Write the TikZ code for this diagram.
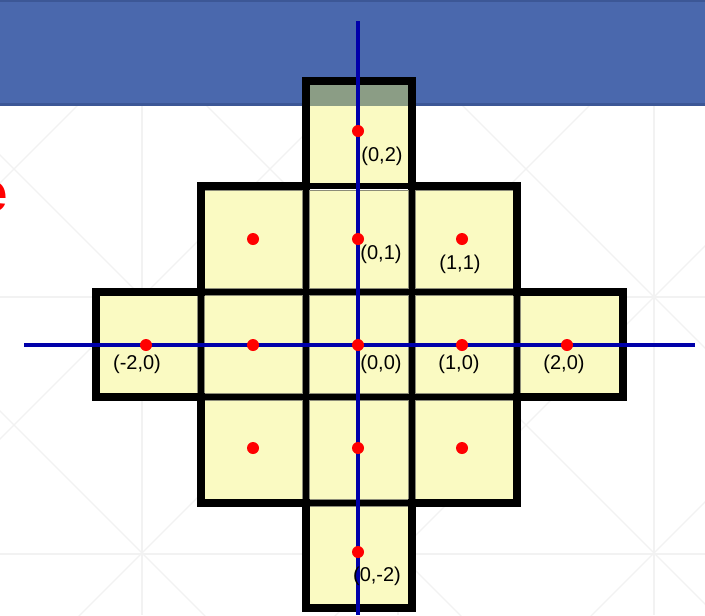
\documentclass[tikz,border=0pt]{standalone}
\usepackage{fontspec}
\setmainfont{Liberation Sans}
\definecolor{banner}{HTML}{4A68AD}
\definecolor{bannerdark}{HTML}{3C5796}
\definecolor{cellyellow}{HTML}{FAFAC2}
\definecolor{overlap}{HTML}{8B9D85}
\definecolor{axisblue}{HTML}{0000AA}
\definecolor{faint}{HTML}{F2F2F2}
\definecolor{celledge}{HTML}{8C8C78}
\tikzset{
  bgline/.style={draw=faint, line width=0.9pt},
  cellbox/.style={fill=cellyellow, draw=celledge, line width=0.6pt},
  innerline/.style={draw=black, line width=4.5pt},
  outerline/.style={draw=black, line width=6pt, line join=miter},
  axisline/.style={draw=axisblue, line width=2.6pt},
  dot/.style={circle, fill=red, inner sep=0pt, minimum size=9pt},
  lbl/.style={inner sep=0pt, font=\fontsize{15pt}{17pt}\selectfont, text=black}
}
\begin{document}
\begin{tikzpicture}[x=0.75pt, y=-0.75pt]
\useasboundingbox (0,0) rectangle (705,615);
\fill[white] (0,0) rectangle (705,615);
% faint background pattern
\begin{scope}
\clip (0,0) rectangle (705,615);
\foreach \gx in {142,398,654} \draw[bgline] (\gx,0) -- (\gx,615);
\foreach \gy in {41,297,554} \draw[bgline] (0,\gy) -- (705,\gy);
\foreach \c in {-613,-357,-101,155,411} \draw[bgline] (-20,\c-20) -- (740,\c+740);
\foreach \c in {183,439,695,951,1207} \draw[bgline] (-20,\c+20) -- (\c+20,-20);
\end{scope}
% red title fragment (cut off at the left edge, as in the reference)
\node[anchor=base east, inner sep=0pt, text=red, font=\bfseries\fontsize{41pt}{48pt}\selectfont] (title) at (8,211) {e};
% banner
\fill[banner] (0,0) rectangle (705,106);
\fill[bannerdark] (0,102.5) rectangle (705,106);
\fill[bannerdark] (0,0) rectangle (705,1.5);
% cells
\def\U{105.4}
\foreach \i/\j in {0/2, -1/1,0/1,1/1, -2/0,-1/0,0/0,1/0,2/0, -1/-1,0/-1,1/-1, 0/-2}{
  \path[cellbox] (306.3+\U*\i+3.5, 291.8-\U*\j+3.5) rectangle (306.3+\U*\i+\U-3.5, 291.8-\U*\j+\U-3.5);
}
\fill[overlap] (306.3,81) rectangle (411.7,106);
% inner lines
\draw[innerline] (200.9,291.8) -- (200.9,397.2);
\draw[innerline] (306.3,186.4) -- (306.3,502.6);
\draw[innerline] (411.7,186.4) -- (411.7,502.6);
\draw[innerline] (517.1,291.8) -- (517.1,397.2);
\draw[innerline] (306.3,186.4) -- (411.7,186.4);
\draw[innerline] (200.9,291.8) -- (517.1,291.8);
\draw[innerline] (200.9,397.2) -- (517.1,397.2);
\draw[innerline] (306.3,502.6) -- (411.7,502.6);
% outer outline
\draw[outerline] (306.3,81) -- (411.7,81) -- (411.7,186.4) -- (517.1,186.4) -- (517.1,291.8) -- (622.5,291.8) -- (622.5,397.2) -- (517.1,397.2) -- (517.1,502.6) -- (411.7,502.6) -- (411.7,608) -- (306.3,608) -- (306.3,502.6) -- (200.9,502.6) -- (200.9,397.2) -- (95.5,397.2) -- (95.5,291.8) -- (200.9,291.8) -- (200.9,186.4) -- (306.3,186.4) -- cycle;
% axes
\coordinate (ytop) at (358,21);
\coordinate (ybot) at (358,615);
\coordinate (xl) at (24,345);
\coordinate (xr) at (695,345);
\draw[axisline] (ytop) -- (ybot);
\draw[axisline] (xl) -- (xr);
% dots
\node[dot] (p02) at (358,131) {};
\node[dot] (pm11) at (253,239) {};
\node[dot] (p01) at (358,239) {};
\node[dot] (p11) at (462,239) {};
\node[dot] (pm20) at (146,345) {};
\node[dot] (pm10) at (253,345) {};
\node[dot] (p00) at (358,345) {};
\node[dot] (p10) at (462,345) {};
\node[dot] (p20) at (567,345) {};
\node[dot] (pm1m1) at (253,448) {};
\node[dot] (p0m1) at (358,448) {};
\node[dot] (p1m1) at (462,448) {};
\node[dot] (p0m2) at (358,552) {};
% labels
\node[lbl] (l02) at (382,156) {(0,2)};
\node[lbl] (l01) at (381,254) {(0,1)};
\node[lbl] (l11) at (460,264) {(1,1)};
\node[lbl] (lm20) at (137,364) {(-2,0)};
\node[lbl] (l00) at (381,364) {(0,0)};
\node[lbl] (l10) at (459,364) {(1,0)};
\node[lbl] (l20) at (564,364) {(2,0)};
\node[lbl] (l0m2) at (377,576) {(0,-2)};
\end{tikzpicture}
\end{document}
